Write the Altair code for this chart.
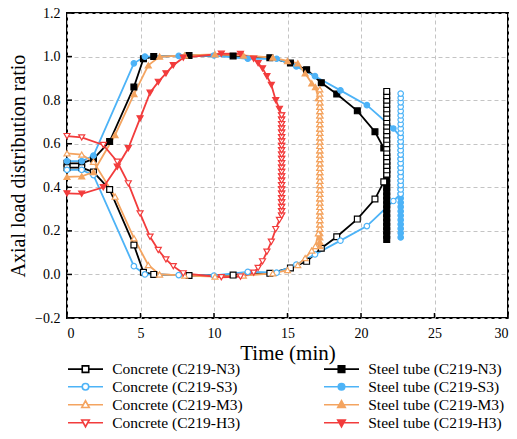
import altair as alt
import pandas as pd

# ---------------- data ----------------
x_ticks = [0, 5, 10, 15, 20, 25, 30]
y_ticks = [-0.2, 0.0, 0.2, 0.4, 0.6, 0.8, 1.0, 1.2]

# C219-N3
n3_time = [0.0, 1.0, 1.8, 2.9, 4.55, 5.2, 5.9, 8.3, 11.3, 13.8, 15.2, 16.3, 17.3, 18.35, 19.75, 20.95, 21.55]
n3_concrete = [0.49, 0.49, 0.47, 0.39, 0.135, 0.01, 0.0, -0.005, -0.003, 0.005, 0.03, 0.06, 0.12, 0.173, 0.254, 0.346, 0.425]
n3_steel = [0.51, 0.51, 0.53, 0.61, 0.86, 0.99, 1.0, 1.005, 1.003, 0.995, 0.97, 0.94, 0.88, 0.828, 0.751, 0.655, 0.58]
n3_stack_time = 21.75
n3_concrete_stack = [0.46, 0.48, 0.50, 0.52, 0.54, 0.56, 0.58, 0.60, 0.62, 0.64, 0.66, 0.68, 0.70,
                     0.72, 0.74, 0.76, 0.78, 0.80, 0.82, 0.84]
n3_steel_stack = [0.54, 0.52, 0.50, 0.48, 0.46, 0.44, 0.42, 0.40, 0.38, 0.36, 0.34, 0.32, 0.30,
                  0.28, 0.26, 0.24, 0.22, 0.20, 0.18, 0.16]

# C219-S3
s3_time = [0.0, 1.0, 1.8, 4.55, 5.3, 7.6, 10.0, 12.3, 14.26, 15.6, 16.87, 18.6, 20.4, 22.2]
s3_concrete = [0.48, 0.48, 0.456, 0.038, 0.0, -0.003, -0.005, 0.012, 0.008, 0.045, 0.092, 0.155, 0.222, 0.337]
s3_steel = [0.52, 0.52, 0.545, 0.969, 1.0, 1.003, 1.005, 0.99, 0.99, 0.955, 0.91, 0.845, 0.777, 0.67]
s3_stack_time = 22.7
s3_concrete_stack = [0.37, 0.39, 0.41, 0.43, 0.45, 0.47, 0.49, 0.51, 0.53, 0.55, 0.57, 0.59, 0.61,
                     0.63, 0.65, 0.67, 0.69, 0.71, 0.73, 0.75, 0.77, 0.79, 0.81, 0.83]
s3_steel_stack = [0.63, 0.61, 0.59, 0.57, 0.55, 0.53, 0.51, 0.49, 0.47, 0.45, 0.43, 0.41, 0.39,
                  0.37, 0.35, 0.33, 0.31, 0.29, 0.27, 0.25, 0.23, 0.21, 0.19, 0.17]

# C219-M3
m3_time = [0.0, 1.0, 1.8, 3.27, 4.56, 5.53, 6.3, 8.0, 10.07, 12.0, 14.0, 15.0, 15.7, 16.2, 16.65, 16.9, 17.1]
m3_concrete = [0.556, 0.55, 0.517, 0.357, 0.166, 0.043, 0.0, -0.005, -0.01, -0.005, 0.005, 0.02, 0.043, 0.075, 0.11, 0.13, 0.189]
m3_steel = [0.448, 0.45, 0.47, 0.64, 0.828, 0.96, 1.0, 1.005, 1.01, 1.005, 0.995, 0.98, 0.969, 0.923, 0.877, 0.86, 0.81]
m3_stack_time = 17.2
m3_concrete_stack = [0.21, 0.23, 0.25, 0.27, 0.29, 0.31, 0.33, 0.35, 0.37, 0.39, 0.41, 0.43, 0.45,
                     0.47, 0.49, 0.51, 0.53, 0.55, 0.57, 0.59, 0.61, 0.63, 0.65, 0.67, 0.69,
                     0.71, 0.73, 0.75, 0.77, 0.79, 0.81, 0.83, 0.85]
m3_steel_stack = [0.79, 0.77, 0.75, 0.73, 0.71, 0.69, 0.67, 0.65, 0.63, 0.61, 0.59, 0.57, 0.55,
                  0.53, 0.51, 0.49, 0.47, 0.45, 0.43, 0.41, 0.39, 0.37, 0.35, 0.33, 0.31,
                  0.29, 0.27, 0.25, 0.23, 0.21, 0.19, 0.17, 0.15, 0.13]

# C219-H3
h3_time = [0.0, 1.0, 2.47, 3.42, 4.17, 4.97, 5.65, 6.21, 6.73, 7.23, 7.91, 10.5, 11.8, 12.7, 13.0, 13.3, 13.6, 13.9, 14.2, 14.45]
h3_concrete = [0.635, 0.629, 0.594, 0.517, 0.418, 0.28, 0.173, 0.112, 0.069, 0.038, 0.005, -0.013, -0.01, 0.008, 0.03, 0.06, 0.104, 0.15, 0.208, 0.25]
h3_steel = [0.372, 0.37, 0.40, 0.494, 0.579, 0.716, 0.834, 0.884, 0.923, 0.96, 0.995, 1.013, 1.012, 0.99, 0.97, 0.946, 0.91, 0.87, 0.80, 0.76]
h3_stack_time = 14.6
h3_concrete_stack = [0.27, 0.29, 0.31, 0.33, 0.35, 0.37, 0.39, 0.41, 0.43, 0.45, 0.47, 0.49, 0.51,
                     0.53, 0.55, 0.57, 0.59, 0.61, 0.63, 0.65, 0.67, 0.69, 0.71, 0.73]
h3_steel_stack = [0.73, 0.71, 0.69, 0.67, 0.65, 0.63, 0.61, 0.59, 0.57, 0.55, 0.53, 0.51, 0.49,
                  0.47, 0.45, 0.43, 0.41, 0.39, 0.37, 0.35, 0.33, 0.31, 0.29, 0.27]

# ---------------- styling ----------------
FONT = "Liberation Serif"
specimens = [
    ("C219-N3", "#000000", "square", n3_time, n3_concrete, n3_steel, n3_stack_time, n3_concrete_stack, n3_steel_stack),
    ("C219-S3", "#4db3f7", "circle", s3_time, s3_concrete, s3_steel, s3_stack_time, s3_concrete_stack, s3_steel_stack),
    ("C219-M3", "#f4a460", "triangle-up", m3_time, m3_concrete, m3_steel, m3_stack_time, m3_concrete_stack, m3_steel_stack),
    ("C219-H3", "#f23c3c", "triangle-down", h3_time, h3_concrete, h3_steel, h3_stack_time, h3_concrete_stack, h3_steel_stack),
]
marker_size = {"square": 34, "circle": 30, "triangle-up": 36, "triangle-down": 36}

# legend symbols: short line with the marker in the middle (unit = 5 px)
seg = "M-3.5,0L-0.65,0M0.65,0L3.5,0"
seg_tri = "M-3.5,0L-0.45,0M0.45,0L3.5,0"
legend_paths = {
    "square": seg + "M-0.65,-0.65L0.65,-0.65L0.65,0.65L-0.65,0.65Z",
    "circle": seg + "M0.65,0A0.65,0.65,0,1,1,-0.65,0A0.65,0.65,0,1,1,0.65,0Z",
    "triangle-up": seg_tri + "M0,-0.8L0.75,0.55L-0.75,0.55Z",
    "triangle-down": seg_tri + "M0,0.8L0.75,-0.55L-0.75,-0.55Z",
}

rows = []
for name, col, shp, ts, conc, steel, st, conc_stack, steel_stack in specimens:
    for kind, vals, stack in (("Concrete", conc, conc_stack), ("Steel tube", steel, steel_stack)):
        label = f"{kind} ({name})"
        i = 0
        for t, v in zip(ts, vals):
            rows.append({"series": label, "t": t, "r": v, "idx": i})
            i += 1
        for v in stack:
            rows.append({"series": label, "t": st, "r": v, "idx": i})
            i += 1

# legend: first column concrete, second column steel tube
legend_order, legend_colors, legend_fills, legend_shapes = [], [], [], []
for kind in ("Concrete", "Steel tube"):
    for name, col, shp, *_ in specimens:
        legend_order.append(f"{kind} ({name})")
        legend_colors.append(col)
        legend_fills.append("white" if kind == "Concrete" else col)
        legend_shapes.append(legend_paths[shp])

df = pd.DataFrame(rows)

x_scale = alt.Scale(domain=[0, 30], nice=False, zero=False)
y_scale = alt.Scale(domain=[-0.2, 1.2], nice=False, zero=False)
axis_common = dict(
    grid=True, gridDash=[4, 3], gridColor="#c4c4c4", gridWidth=1,
    ticks=False, domain=False,
    labelFont=FONT, labelFontSize=14, labelColor="black",
    titleFont=FONT, titleColor="black", titleFontWeight="normal",
)
x_axis = alt.Axis(values=x_ticks, title="Time (min)", labelPadding=8, titlePadding=2,
                  titleFontSize=21, **axis_common)
y_axis = alt.Axis(values=y_ticks, format=".1f", title="Axial load distribution ratio",
                  labelPadding=7, titlePadding=6, titleFontSize=20, **axis_common)

X = alt.X("t:Q", scale=x_scale, axis=x_axis)
Y = alt.Y("r:Q", scale=y_scale, axis=y_axis)

W, H = 441, 305
layers = []

# inward tick marks
layers.append(
    alt.Chart(pd.DataFrame({"t": x_ticks})).mark_rule(color="black", strokeWidth=1.5)
    .encode(x=X, y=alt.value(H), y2=alt.value(H - 5))
)
layers.append(
    alt.Chart(pd.DataFrame({"r": y_ticks})).mark_rule(color="black", strokeWidth=1.5)
    .encode(y=Y, x=alt.value(0), x2=alt.value(5))
)

for name, col, shp, *_ in specimens:
    for kind in ("Steel tube", "Concrete"):
        label = f"{kind} ({name})"
        base = alt.Chart(df).transform_filter(alt.datum.series == label)
        layers.append(base.mark_line(color=col, strokeWidth=1.8).encode(x=X, y=Y, order="idx:Q"))
for name, col, shp, *_ in specimens:
    for kind in ("Steel tube", "Concrete"):
        label = f"{kind} ({name})"
        base = alt.Chart(df).transform_filter(alt.datum.series == label)
        layers.append(
            base.mark_point(shape=shp, size=marker_size[shp], filled=False, opacity=1,
                            color=col, fill=("white" if kind == "Concrete" else col),
                            strokeWidth=1.2)
            .encode(x=X, y=Y)
        )

# legend-only layer (invisible marks)
legend_layer = alt.Chart(df).mark_point(opacity=0, filled=False).encode(
    x=X, y=Y,
    color=alt.Color("series:N", scale=alt.Scale(domain=legend_order, range=legend_colors),
                    legend=alt.Legend(title=None, orient="none", legendX=1, legendY=348,
                                      columns=2, columnPadding=77, rowPadding=1,
                                      symbolSize=100, symbolStrokeWidth=1.6, symbolOffset=9.75,
                                      symbolFillColor="white", symbolOpacity=1,
                                      labelFont=FONT, labelFontSize=15.5, labelColor="black",
                                      labelOffset=19, labelLimit=300)),
    fill=alt.Fill("series:N", scale=alt.Scale(domain=legend_order, range=legend_fills),
                  legend=alt.Legend(title=None)),
    shape=alt.Shape("series:N", scale=alt.Scale(domain=legend_order, range=legend_shapes),
                    legend=alt.Legend(title=None)),
)
layers.append(legend_layer)

chart = alt.layer(*layers).properties(
    width=W, height=H,
    autosize=alt.AutoSizeParams(type="none"),
    padding={"left": 67, "top": 13, "right": 9, "bottom": 121},
).configure_view(stroke="black", strokeWidth=2).configure_legend(
    symbolFillColor="white", symbolOpacity=1
)

chart.save("out.html", embed_options={"renderer": "svg", "actions": False})
